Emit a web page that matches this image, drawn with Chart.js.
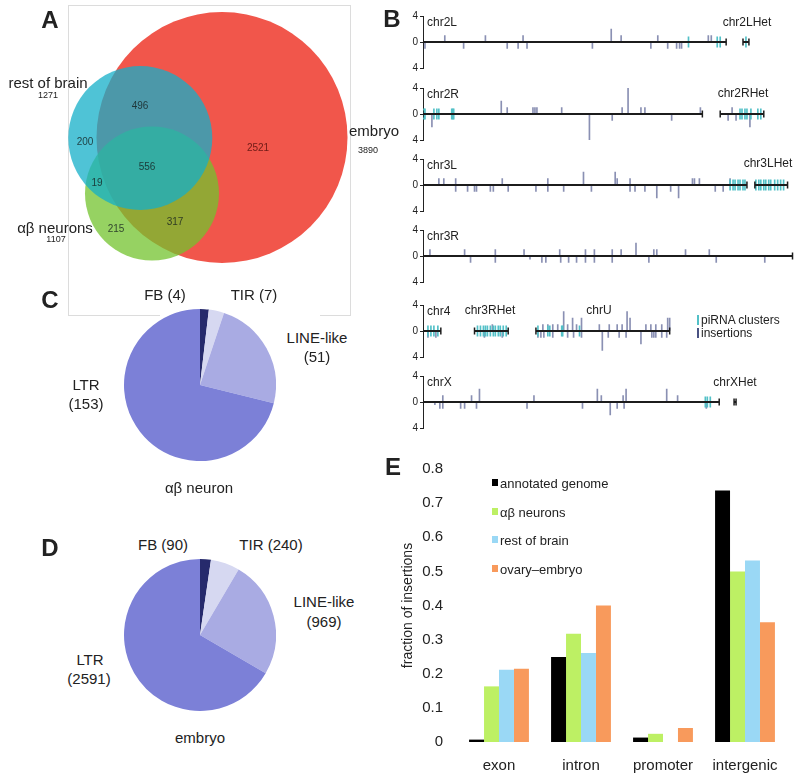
<!DOCTYPE html>
<html>
<head>
<meta charset="utf-8">
<script src="https://cdn.jsdelivr.net/npm/chart.js@4.4.0/dist/chart.umd.min.js"></script>
<style>
  body { margin: 0; width: 800px; height: 778px; position: relative; background: #fff; overflow: hidden;
         font-family: Arial, "Liberation Sans", Helvetica, sans-serif; color: #222; }
  canvas { position: absolute; }
  .t { position: absolute; white-space: nowrap; line-height: 1; }
  .frame { position: absolute; background: #dcdcdc; }
</style>
</head>
<body>

<div class="frame" style="left:68px;top:5px;width:282px;height:1px"></div>
<div class="frame" style="left:68px;top:5px;width:1px;height:311px"></div>
<div class="frame" style="left:350px;top:5px;width:1px;height:311px"></div>
<div class="frame" style="left:68px;top:315px;width:92px;height:1px"></div>
<div class="frame" style="left:320px;top:315px;width:31px;height:1px"></div>

<canvas id="venn" width="400" height="320" style="left:0;top:0"></canvas>
<canvas id="row1" width="400" height="68" style="left:400px;top:8px"></canvas>
<canvas id="row2" width="400" height="68" style="left:400px;top:80px"></canvas>
<canvas id="row3" width="400" height="68" style="left:400px;top:151px"></canvas>
<canvas id="row4" width="400" height="68" style="left:400px;top:222px"></canvas>
<canvas id="row5" width="400" height="68" style="left:400px;top:297px"></canvas>
<canvas id="row6" width="400" height="68" style="left:400px;top:368px"></canvas>
<canvas id="pieC" width="152" height="152" style="left:124px;top:309px"></canvas>
<canvas id="pieD" width="152" height="152" style="left:124px;top:559px"></canvas>
<canvas id="barE" width="400" height="349" style="left:400px;top:445px"></canvas>

<script>
// ---- panel A: Venn (centres and radii in venn units, the panel is 40 units wide)
const vennSets = ['embryo', 'αβ neurons', 'rest of brain'];
const vennTotals = [3890, 1107, 1271];
const vennCenters = [[22.2, 13.75], [15.2, 19.35], [14.03, 13.8]];
const vennRadius = [12.55, 6.7, 7.2];
const vennColors = ['rgb(241,86,75)', 'rgba(115,195,45,0.75)', 'rgba(20,175,200,0.75)'];
const vennCounts = ['496', '200', '2521', '556', '19', '317', '215'];

// ---- panel B: insertions per chromosome track, [position, count] (track units)
const chr2LIns = [[22,1],[63,1],[101,1],[190,2],[200,1],[237,1],[288,1],[291,1],[2,-1],[41,-1],[85,-1],[96,-1],[105,-1],[171,-1],[230,-1],[247,-1],[256,-1],[259,-1],[261,-1]];
const chr2RIns = [[79,2],[85,1],[111,1],[113,1],[115,1],[140,1],[201,1],[207,4],[220,1],[224,1],[280,1],[312,1],[9,-2],[168,-4],[191,-1],[251,-1],[308,-1],[316,-1],[330,-2]];
const chr3LIns = [[16,1],[21,1],[33,1],[80,1],[126,1],[162,2],[194,2],[196,1],[209,1],[272,1],[274,1],[279,1],[310,1],
  [33,-1],[45,-1],[52,-1],[54,-1],[68,-1],[71,-1],[86,-1],[114,-1],[126,-1],[142,-1],[170,-1],[209,-1],[214,-1],[224,-1],[236,-2],[250,-1],[258,-2],[295,-1],[303,-1]];
const chr3RIns = [[7,1],[42,1],[73,1],[102,1],[138,1],[164,1],[173,1],[191,1],[200,1],[215,2],[233,1],[236,1],[265,1],[289,1],
  [48,-1],[73,-1],[108,-0.5],[120,-1],[124,-1],[139,-1],[147,-1],[155,-1],[164,-1],[173,-1],[191,-1],[228,-1],[296,-1],[345,-1]];
const chr4UIns = [[5,-1],[13,-1],[62,-1],[70,1],[80,-1],
  [121,1],[126,1],[131,1],[136,1],[142,3],[146,1],[151,2],[155,1],[160,2],[178,1],[188,1],[196,1],[201,1],[206,3],[209,2],[225,1],[230,1],[235,1],[241,1],[247,2],[249,2],
  [116,-1],[119,-1],[122,-1],[131,-1],[146,-1],[152,-1],[160,-1],[181,-3],[187,-1],[198,-1],[205,-1],[220,-2],[231,-1],[233,-1],[235,-1],[241,-1],[246,-1]];
const chrXIns = [[20,1],[49,1],[57,2],[112,1],[176,2],[180,1],[202,1],[205,2],[246,2],[257,1],
  [12,-0.4],[17,-1],[20,-1],[38,-1],[42,-1],[54,-1],[105,-1],[161,-1],[189,-2],[196,-1],[203,-1],[286,-1]];

// piRNA cluster positions
const chr2LClusters = [268, 297, 300, 326];
const chr2RClusters = [1, 2, 11, 14, 16, 29, 30, 31, 320, 322, 325, 327, 331, 338, 341];
const chr3LClusters = [310, 313, 315, 318, 320, 323, 325, 336, 339, 341, 344, 346, 349, 351, 355, 358, 361, 364];
const chr3RClusters = [];
const chr4UClusters = [5, 8, 11, 15, 55, 58, 61, 63, 65, 68, 71, 73, 76, 78, 81, 84, 116, 126, 128, 140, 141, 158];
const chrXClusters = [285, 287, 290];

// chromosome arm extents [start, end]
const chr2LArms = [[0, 306], [323, 329]];
const chr2RArms = [[0, 282], [300, 344]];
const chr3LArms = [[0, 327], [335, 368]];
const chr3RArms = [[0, 373]];
const chr4UArms = [[0, 18], [52, 86], [114, 249]];
const chrXArms = [[0, 299], [314, 316]];

// ---- panels C, D: transposon classes
const teClasses = ['FB', 'TIR', 'LINE-like', 'LTR'];
const neuronCounts = [4, 7, 51, 153];
const embryoCounts = [90, 240, 969, 2591];
const teColors = ['#262a6c', '#d6d8f1', '#a9abe3', '#7c80d7'];

// ---- panel E: fraction of insertions
const regions = ['exon', 'intron', 'promoter', 'intergenic'];
const genomeFrac = [0.007, 0.249, 0.013, 0.737];
const neuronFrac = [0.163, 0.317, 0.024, 0.5];
const brainFrac = [0.212, 0.261, 0, 0.532];
const embryoFrac = [0.215, 0.4, 0.041, 0.351];
const fracTicks = [0, 0.1, 0.2, 0.3, 0.4, 0.5, 0.6, 0.7, 0.8];
const seriesNames = ['annotated genome', 'αβ neurons', 'rest of brain', 'ovary–embryo'];
const seriesColors = ['#000000', '#bdf064', '#9ad8f5', '#f89a5c'];

const base = { responsive: false, animation: false, events: [],
  plugins: { legend: { display: false }, tooltip: { enabled: false } } };

function text(str, x, y, size, opt) {
  opt = opt || {};
  const d = document.createElement('div');
  d.className = 't';
  d.textContent = str;
  d.style.left = x + 'px';
  d.style.top = y + 'px';
  d.style.fontSize = size + 'px';
  if (opt.bold) d.style.fontWeight = 'bold';
  if (opt.color) d.style.color = opt.color;
  d.style.transform = opt.left ? 'translate(0,-50%)' : 'translate(-50%,-50%)';
  document.body.appendChild(d);
  return d;
}

// Venn: radius option scriptable, converted from venn units using the x range
const vennMax = 40;
new Chart(document.getElementById('venn'), {
  type: 'bubble',
  data: {
    datasets: vennSets.map((s, i) => ({
      label: s,
      data: [{ x: vennCenters[i][0], y: vennCenters[i][1] }],
      backgroundColor: vennColors[i],
      borderWidth: 0,
      clip: false,
      radius: ctx => vennRadius[i] * ctx.chart.width / vennMax,
      order: vennSets.length - i
    }))
  },
  options: Object.assign({}, base, {
    layout: { padding: 0, autoPadding: false },
    scales: {
      x: { type: 'linear', min: 0, max: vennMax, display: false },
      y: { type: 'linear', min: 0, max: 32, reverse: true, display: false }
    }
  })
});

// genome tracks
function track(id, ins, clusters, arms) {
  const ds = arms.map(a => ({
    type: 'line', data: [{ x: a[0], y: 0 }, { x: a[1], y: 0 }],
    borderColor: '#1c1c1c', borderWidth: 1.8, pointStyle: 'line', rotation: 90,
    pointRadius: 3.5, pointBorderWidth: 1.5, pointBorderColor: '#1c1c1c', order: 0
  }));
  ds.push({ type: 'bar', data: clusters.map(p => ({ x: p, y: [-0.8, 0.8] })),
    backgroundColor: '#52c0c7', barThickness: 1, grouped: false, order: 1 });
  ds.push({ type: 'bar', data: ins.map(d => ({ x: d[0], y: d[1] })),
    backgroundColor: '#8a90b3', barThickness: 1, grouped: false, order: 2 });
  new Chart(document.getElementById(id), {
    type: 'bar',
    data: { datasets: ds },
    options: Object.assign({}, base, {
      layout: { padding: { top: 8, bottom: 8, left: 0, right: 3 } },
      scales: {
        x: { type: 'linear', min: 0, max: 375, offset: false, display: false },
        y: { min: -4, max: 4,
             afterFit: s => { s.width = 23; },
             ticks: { stepSize: 2, padding: 2, color: '#222', font: { size: 10, family: 'Arial' },
                      callback: v => (v === 0 ? '0' : Math.abs(v) === 4 ? '4' : '') },
             grid: { drawOnChartArea: false, drawTicks: true, tickLength: 3, color: '#222' },
             border: { display: true, color: '#222', width: 1 } }
      }
    })
  });
}
track('row1', chr2LIns, chr2LClusters, chr2LArms);
track('row2', chr2RIns, chr2RClusters, chr2RArms);
track('row3', chr3LIns, chr3LClusters, chr3LArms);
track('row4', chr3RIns, chr3RClusters, chr3RArms);
track('row5', chr4UIns, chr4UClusters, chr4UArms);
track('row6', chrXIns, chrXClusters, chrXArms);

// pies
function pie(id, counts) {
  new Chart(document.getElementById(id), {
    type: 'pie',
    data: { labels: teClasses, datasets: [{ data: counts, backgroundColor: teColors, borderWidth: 0, hoverOffset: 0 }] },
    options: Object.assign({}, base, { layout: { padding: 0 } })
  });
}
pie('pieC', neuronCounts);
pie('pieD', embryoCounts);

// bar chart E
new Chart(document.getElementById('barE'), {
  type: 'bar',
  data: {
    labels: regions,
    datasets: [genomeFrac, neuronFrac, brainFrac, embryoFrac].map((d, i) => ({
      label: seriesNames[i], data: d, backgroundColor: seriesColors[i], borderWidth: 0,
      categoryPercentage: 0.73, barPercentage: 1.0
    }))
  },
  options: Object.assign({}, base, {
    layout: { padding: { top: 22, right: 14, bottom: 4, left: 0 } },
    scales: {
      x: { grid: { display: false, drawTicks: false }, border: { display: false },
           ticks: { padding: 15, color: '#222', font: { size: 15, family: 'Arial' } } },
      y: { min: 0, max: 0.8,
           afterFit: s => { s.width = 58; },
           afterBuildTicks: s => { s.ticks = fracTicks.map(v => ({ value: v })); },
           grid: { display: false, drawTicks: false }, border: { display: false },
           ticks: { padding: 15, color: '#222', font: { size: 15, family: 'Arial' } },
           title: { display: true, text: 'fraction of insertions', padding: 0, color: '#222',
                    font: { size: 14, family: 'Arial' } } }
    }
  })
});

// ---- text
text('A', 50, 20, 24, { bold: true });
text('B', 392, 19, 24, { bold: true });
text('C', 50, 300, 24, { bold: true });
text('D', 50, 548, 24, { bold: true });
text('E', 393, 467, 24, { bold: true });

text('rest of brain', 48, 82, 15);
text(String(vennTotals[2]), 48, 95, 9);
text('embryo', 374, 130, 15);
text(String(vennTotals[0]), 368, 150, 9);
text('αβ neurons', 55, 227, 15);
text(String(vennTotals[1]), 56, 239, 9);
const countPos = [[140, 106], [85, 142], [258, 148], [147, 167], [97, 183], [175, 222], [116, 229]];
vennCounts.forEach((c, i) => text(c, countPos[i][0], countPos[i][1], 10,
  { color: i === 2 ? '#6e1b16' : 'rgba(20,30,30,0.8)' }));

const rowZero = [42, 114, 185, 256, 331, 402];
['chr2L', 'chr2R', 'chr3L', 'chr3R', 'chr4', 'chrX'].forEach((n, i) => text(n, 427, rowZero[i] - 20, 12, { left: true }));
text('chr2LHet', 747, 22, 12);
text('chr2RHet', 743, 93, 12);
text('chr3LHet', 768, 163, 12);
text('chr3RHet', 490, 310, 12);
text('chrU', 599, 310, 12);
text('chrXHet', 735, 382, 12);
text('piRNA clusters', 701, 320, 12, { left: true });
text('insertions', 701, 333, 12, { left: true });
const lg1 = document.createElement('div');
lg1.style.cssText = 'position:absolute;left:697px;top:315px;width:2px;height:10px;background:#52c0c7';
document.body.appendChild(lg1);
const lg2 = document.createElement('div');
lg2.style.cssText = 'position:absolute;left:697px;top:328px;width:2px;height:10px;background:#4a5283';
document.body.appendChild(lg2);

text(teClasses[0] + ' (' + neuronCounts[0] + ')', 165, 294, 15);
text(teClasses[1] + ' (' + neuronCounts[1] + ')', 254, 294, 15);
text(teClasses[2], 317, 337, 15);
text('(' + neuronCounts[2] + ')', 317, 356, 15);
text(teClasses[3], 86, 384, 15);
text('(' + neuronCounts[3] + ')', 86, 403, 15);
text('αβ neuron', 199, 487, 15);

text(teClasses[0] + ' (' + embryoCounts[0] + ')', 163, 544, 15);
text(teClasses[1] + ' (' + embryoCounts[1] + ')', 271, 544, 15);
text(teClasses[2], 324, 601, 15);
text('(' + embryoCounts[2] + ')', 324, 621, 15);
text(teClasses[3], 90, 659, 15);
text('(' + embryoCounts[3] + ')', 89, 678, 15);
text('embryo', 200, 737, 15);

const legY = [483, 512, 540, 569];
seriesNames.forEach((n, i) => {
  const sq = document.createElement('div');
  sq.style.cssText = 'position:absolute;left:492px;width:6px;height:7px;top:' + (legY[i] - 4) + 'px;background:' + seriesColors[i];
  document.body.appendChild(sq);
  text(n, 500, legY[i], 13, { left: true });
});
</script>
</body>
</html>
